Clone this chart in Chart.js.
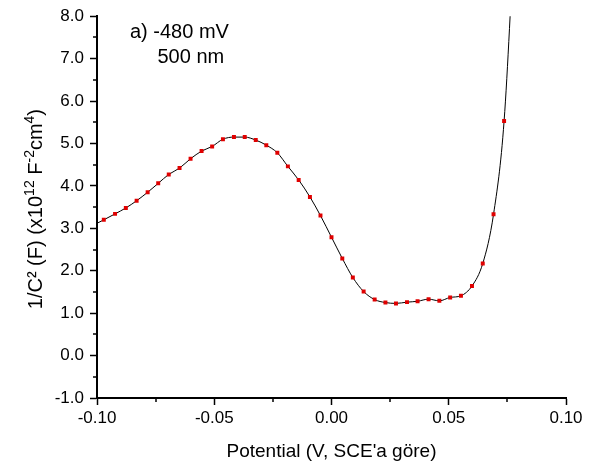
<!DOCTYPE html>
<html><head><meta charset="utf-8">
<script src="https://cdn.jsdelivr.net/npm/chart.js@4"></script>
<style>html,body{margin:0;padding:0;background:#fff}canvas{display:block}</style>
</head><body>
<canvas id="c" width="603" height="473"></canvas>
<script>
// ---- data ----
const potential = [-0.1017, -0.0971, -0.0923, -0.0877, -0.0831, -0.0784, -0.0739, -0.0694, -0.0648, -0.0601,
  -0.0554, -0.0509, -0.0463, -0.0416, -0.0370, -0.0323, -0.0278, -0.0231, -0.0186, -0.0140,
  -0.0092, -0.0047, 0.0000, 0.0046, 0.0091, 0.0137, 0.0184, 0.0230, 0.0275, 0.0322,
  0.0367, 0.0414, 0.0460, 0.0506, 0.0552, 0.0599, 0.0645, 0.0691, 0.0736, 0.0782];
const invC2 = [3.07, 3.20, 3.34, 3.48, 3.65, 3.85, 4.06, 4.27, 4.42, 4.64,
  4.82, 4.93, 5.10, 5.15, 5.15, 5.08, 4.96, 4.78, 4.46, 4.14,
  3.74, 3.30, 2.79, 2.29, 1.84, 1.51, 1.32, 1.25, 1.23, 1.26,
  1.28, 1.33, 1.29, 1.37, 1.41, 1.64, 2.17, 3.33, 5.53, 10.2];
const xTicks = [-0.10, -0.05, 0.00, 0.05, 0.10];
const xMinorTicks = [-0.075, -0.025, 0.025, 0.075];
const yTicks = [-1, 0, 1, 2, 3, 4, 5, 6, 7, 8];
const yMinorTicks = [-0.5, 0.5, 1.5, 2.5, 3.5, 4.5, 5.5, 6.5, 7.5];
const annotationLines = ['a) -480 mV', '500 nm'];
const xTitle = "Potential (V, SCE'a göre)";
// y title pieces: [text, superscript?]
const yTitleParts = [['1/C² (F) (x10', false], ['12', true], [' F', false], ['-2', true], ['cm', false], ['4', true], [')', false]];

const FONT = 'Arial, "Liberation Sans", sans-serif';

const minorTicksPlugin = {
  id: 'minorTicks',
  afterDraw(chart) {
    const {ctx, scales: {x, y}, chartArea} = chart;
    ctx.save();
    ctx.strokeStyle = '#000';
    ctx.lineWidth = 1.5;
    ctx.beginPath();
    xMinorTicks.forEach(v => {
      const px = Math.round(x.getPixelForValue(v));
      ctx.moveTo(px, chartArea.bottom); ctx.lineTo(px, chartArea.bottom + 4);
    });
    yMinorTicks.forEach(v => {
      const py = Math.round(y.getPixelForValue(v));
      ctx.moveTo(chartArea.left - 4, py); ctx.lineTo(chartArea.left, py);
    });
    ctx.stroke();
    ctx.restore();
  }
};

const textPlugin = {
  id: 'texts',
  afterDraw(chart) {
    const {ctx, chartArea} = chart;
    ctx.save();
    ctx.fillStyle = '#000';
    // annotation
    ctx.font = '20px ' + FONT;
    ctx.textBaseline = 'alphabetic';
    ctx.textAlign = 'left';
    ctx.fillText(annotationLines[0], chartArea.left + 33, chartArea.top + 22);
    ctx.fillText(annotationLines[1], chartArea.left + 60.5, chartArea.top + 47);
    // y title with superscripts
    const mainSize = 20, supSize = 14;
    let total = 0;
    yTitleParts.forEach(([t, sup]) => {
      ctx.font = (sup ? supSize : mainSize) + 'px ' + FONT;
      total += ctx.measureText(t).width;
    });
    const cy = (chartArea.top + chartArea.bottom) / 2 + 2;
    ctx.translate(42, cy);
    ctx.rotate(-Math.PI / 2);
    let pos = -total / 2;
    yTitleParts.forEach(([t, sup]) => {
      ctx.font = (sup ? supSize : mainSize) + 'px ' + FONT;
      ctx.fillText(t, pos, sup ? -8 : 0);
      pos += ctx.measureText(t).width;
    });
    ctx.restore();
  }
};

const points = potential.map((v, i) => ({x: v, y: invC2[i]}));

new Chart(document.getElementById('c'), {
  type: 'line',
  data: {
    datasets: [{
      data: points,
      borderColor: '#000',
      borderWidth: 1,
      cubicInterpolationMode: 'monotone',
      pointStyle: 'rect',
      pointRadius: 2.8,
      pointBorderWidth: 0,
      pointBackgroundColor: '#e00000',
      pointBorderColor: '#e00000',
      fill: false
    }]
  },
  options: {
    responsive: false,
    animation: false,
    devicePixelRatio: 1,
    layout: {padding: {left: 0, top: 10, right: 37, bottom: 0}},
    plugins: {legend: {display: false}, tooltip: {enabled: false}},
    scales: {
      x: {
        type: 'linear', min: -0.1, max: 0.1,
        afterBuildTicks: s => { s.ticks = xTicks.map(v => ({value: v})); },
        afterFit: s => { s.height = 75; },
        grid: {drawOnChartArea: false, drawTicks: true, tickLength: 7, tickColor: '#000', tickWidth: 1.5},
        border: {display: true, color: '#000', width: 2},
        ticks: {color: '#000', font: {size: 17, family: FONT}, padding: 3, maxRotation: 0,
          callback: v => Number(v).toFixed(2)},
        title: {display: true, text: xTitle, color: '#000', font: {size: 19, family: FONT}, padding: {top: 6, bottom: 10}}
      },
      y: {
        type: 'linear', min: -1, max: 8,
        afterBuildTicks: s => { s.ticks = yTicks.map(v => ({value: v})); },
        afterFit: s => { s.width = 97; },
        grid: {drawOnChartArea: false, drawTicks: true, tickLength: 7, tickColor: '#000', tickWidth: 1.5},
        border: {display: true, color: '#000', width: 2},
        ticks: {color: '#000', font: {size: 17, family: FONT}, padding: 6,
          callback: v => Number(v).toFixed(1)}
      }
    }
  },
  plugins: [minorTicksPlugin, textPlugin]
});
</script>
</body></html>
